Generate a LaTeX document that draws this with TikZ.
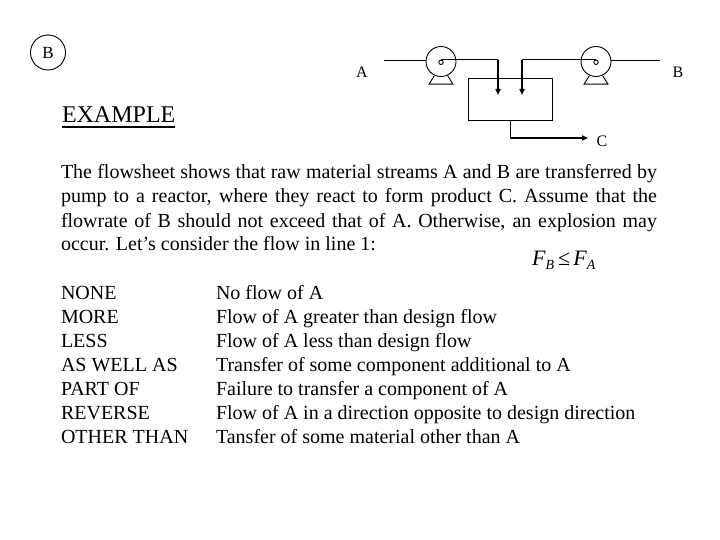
\documentclass[tikz,border=0pt]{standalone}
\usepackage{fontspec}
\setmainfont{Liberation Serif}
\usetikzlibrary{arrows.meta,calc}
\tikzset{
  txt/.style={inner sep=0pt,outer sep=0pt,anchor=base west,font=\fontsize{20}{24}\selectfont},
  lbl/.style={inner sep=0pt,outer sep=0pt,font=\fontsize{16}{18}\selectfont},
  pump/.style={draw,circle,minimum size=30pt,inner sep=0pt,line width=0.9pt},
  eye/.style={draw,circle,minimum size=4.4pt,inner sep=0pt,line width=0.9pt},
  thin/.style={line width=0.9pt},
  flowthick/.style={line width=2pt,-{Triangle[length=6pt,width=5pt]}},
}
\begin{document}
\begin{tikzpicture}[x=1pt,y=-1pt]
\useasboundingbox[fill=white] (0,0) rectangle (720,540);

% top-left marker
\node[draw,circle,minimum size=35pt,inner sep=0pt,thin,font=\fontsize{17}{18}\selectfont] (mark) at (48,52.5) {B};

% EXAMPLE heading
\node[txt,font=\fontsize{24}{28}\selectfont] (ex) at (62,123) {EXAMPLE};
\draw[line width=1.8pt] ([yshift=-4pt]ex.base west) -- ([yshift=-4pt]ex.base east);

% flowsheet
\node[pump] (p1) at (441,61.5) {};
\node[eye] (e1) at (441,62.3) {};
\node[pump] (p2) at (596,61.5) {};
\node[eye] (e2) at (596,62.3) {};
\node[draw,thin,minimum width=84pt,minimum height=41.7pt,inner sep=0pt] (R) at (510.3,99.2) {};

\foreach \p in {p1,p2}{
  \draw[thin] (\p.245) -- ($(\p.center)+(-12,22.7)$) -- ($(\p.center)+(12,22.7)$) -- (\p.295);
}

\node[lbl] (la) at (362,72) {A};
\node[lbl] (lb) at (678,72) {B};
\node[lbl] (lc) at (602,141) {C};

\coordinate (ain) at (384,60);
\coordinate (bin) at (660,60);
\coordinate (tA) at (498,95);
\coordinate (tB) at (522,95);
\coordinate (tC) at (588,138);

\draw[thin] (ain) -- (ain -| p1.west);
\draw[thin] (e1.north) -- (e1.north -| tA);
\draw[flowthick] (e1.north -| tA) -- (tA);

\draw[thin] (bin) -- (bin -| p2.east);
\draw[thin] (e2.north) -- (e2.north -| tB);
\draw[flowthick] (e2.north -| tB) -- (tB);

\draw[thin] (R.south) -- (R.south |- tC);
\draw[flowthick] (R.south |- tC) -- (tC);

% paragraph
\node[txt] (l1) at (61,179) {\makebox[596pt][s]{The flowsheet shows that raw material streams A and B are transferred by}};
\node[txt] (l2) at (61,203) {\makebox[596pt][s]{pump to a reactor, where they react to form product C. Assume that the}};
\node[txt] (l3) at (61,227) {\makebox[596pt][s]{flowrate of B should not exceed that of A. Otherwise, an explosion may}};
\node[txt] (l4) at (61,251) {occur. Let’s consider the flow in line 1:};

% formula
\node[txt,font=\fontsize{22}{26}\selectfont] (eq) at (532,265) {\textit{F}\raisebox{-4pt}{\fontsize{14}{14}\selectfont\textit{B}}\hspace{4pt}≤\hspace{3pt}\textit{F}\raisebox{-4pt}{\fontsize{14}{14}\selectfont\textit{A}}};

% guide words
\node[txt] (g1) at (61,299) {NONE};
\node[txt] (g2) at (61,323) {MORE};
\node[txt] (g3) at (61,347) {LESS};
\node[txt] (g4) at (61,371) {AS WELL AS};
\node[txt] (g5) at (61,395) {PART OF};
\node[txt] (g6) at (61,419) {REVERSE};
\node[txt] (g7) at (61,443) {OTHER THAN};

\node[txt] (d1) at (216,299) {No flow of A};
\node[txt] (d2) at (216,323) {Flow of A greater than design flow};
\node[txt] (d3) at (216,347) {Flow of A less than design flow};
\node[txt] (d4) at (216,371) {Transfer of some component additional to A};
\node[txt] (d5) at (216,395) {Failure to transfer a component of A};
\node[txt] (d6) at (216,419) {Flow of A in a direction opposite to design direction};
\node[txt] (d7) at (216,443) {Tansfer of some material other than A};
\end{tikzpicture}
\end{document}
